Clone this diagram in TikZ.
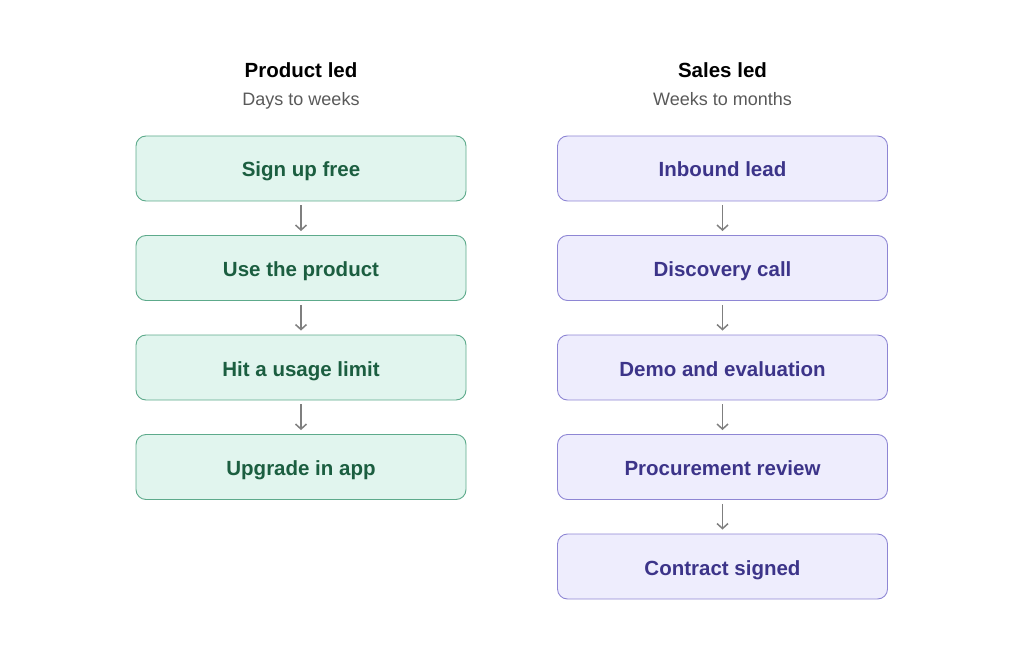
\documentclass[tikz,border=0pt]{standalone}
\usepackage{fontspec}
\setmainfont{Liberation Sans}
\usetikzlibrary{arrows.meta}
\definecolor{gfill}{HTML}{E1F5EE}
\definecolor{gdraw}{HTML}{5DAA8B}
\definecolor{gtext}{HTML}{1B5E40}
\definecolor{pfill}{HTML}{EEEDFD}
\definecolor{pdraw}{HTML}{8E86D4}
\definecolor{ptext}{HTML}{3C3489}
\definecolor{arr}{HTML}{7F7F7F}
\definecolor{sub}{HTML}{595959}
\tikzset{
  x=1pt, y=-1pt,
  stepbase/.style={line width=0.9pt, rounded corners=10pt,
    minimum width=330pt, minimum height=65pt, text height=17pt, text depth=0pt,
    font=\fontsize{20.5}{24}\selectfont\bfseries},
  stepg/.style={stepbase, draw=gdraw, fill=gfill, text=gtext},
  stepp/.style={stepbase, draw=pdraw, fill=pfill, text=ptext},
  title/.style={font=\fontsize{20.5}{24}\selectfont\bfseries, text=black, text height=15pt, text depth=0pt},
  subt/.style={font=\fontsize{18}{21}\selectfont, text=sub, text height=12pt, text depth=0pt},
  flow/.style={draw=arr, line width=1.5pt, -{Straight Barb[length=5pt,width=11pt]}, shorten <=4pt, shorten >=4pt}
}
\begin{document}
\begin{tikzpicture}
\useasboundingbox (0,0) rectangle (1024,660);
\node[title] (t1) at (301,70) {Product led};
\node[subt] (s1) at (301,100) {Days to weeks};
\node[title] (t2) at (722.5,70) {Sales led};
\node[subt] (s2) at (722.5,100) {Weeks to months};

\node[stepg] (a1) at (301,168.5) {Sign up free};
\node[stepg] (a2) at (301,268) {Use the product};
\node[stepg] (a3) at (301,367.5) {Hit a usage limit};
\node[stepg] (a4) at (301,467) {Upgrade in app};

\node[stepp] (b1) at (722.5,168.5) {Inbound lead};
\node[stepp] (b2) at (722.5,268) {Discovery call};
\node[stepp] (b3) at (722.5,367.5) {Demo and evaluation};
\node[stepp] (b4) at (722.5,467) {Procurement review};
\node[stepp] (b5) at (722.5,566.5) {Contract signed};

\draw[flow] (a1) -- (a2);
\draw[flow] (a2) -- (a3);
\draw[flow] (a3) -- (a4);
\draw[flow] (b1) -- (b2);
\draw[flow] (b2) -- (b3);
\draw[flow] (b3) -- (b4);
\draw[flow] (b4) -- (b5);
\end{tikzpicture}
\end{document}
